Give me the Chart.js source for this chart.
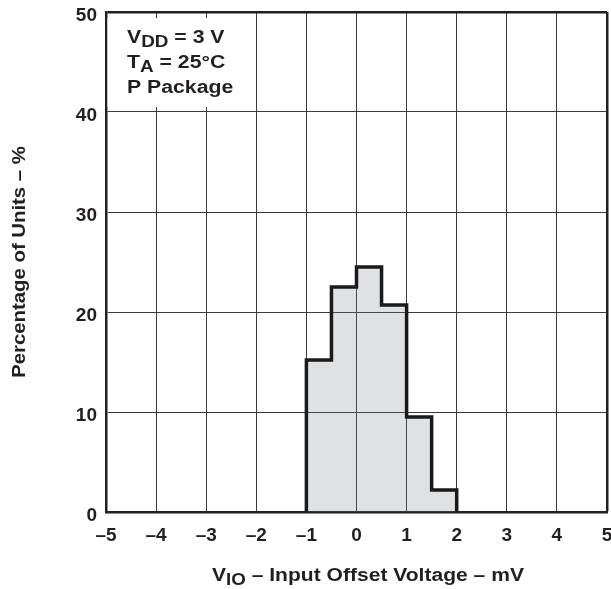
<!DOCTYPE html>
<html>
<head>
<meta charset="utf-8">
<script src="https://cdn.jsdelivr.net/npm/chart.js@4.4.1/dist/chart.umd.min.js"></script>
<style>
  html, body { margin: 0; padding: 0; background: #ffffff; }
  #wrap { width: 611px; height: 589px; }
</style>
</head>
<body>
<div id="wrap"><canvas id="c" width="611" height="589"></canvas></div>
<script>
// ---- data ----
const binStarts = [-1, -0.5, 0, 0.5, 1, 1.5];      // mV, left edge of each bin
const binWidth = 0.5;                               // mV
const percentUnits = [15.2, 22.5, 24.5, 20.7, 9.5, 2.2];  // % of units
const xTickValues = [-5, -4, -3, -2, -1, 0, 1, 2, 3, 4, 5];
const yTickValues = [0, 10, 20, 30, 40, 50];
const xTitleMain = "V";
const xTitleSub = "IO";
const xTitleRest = " \u2013 Input Offset Voltage \u2013 mV";
const yTitle = "Percentage of Units \u2013 %";
const noteLines = [
  ["V", "DD", " = 3 V"],
  ["T", "A", " = 25\u00B0C"],
  ["P Package", "", ""]
];

// histogram outline points built from the bins
const histPoints = [{ x: binStarts[0], y: 0 }];
binStarts.forEach((s, i) => {
  histPoints.push({ x: s, y: percentUnits[i] });
  histPoints.push({ x: s + binWidth, y: percentUnits[i] });
});
histPoints.push({ x: binStarts[binStarts.length - 1] + binWidth, y: 0 });

const FONT = "'Liberation Sans', Arial, Helvetica, sans-serif";
const INK = '#231f20';

const decorPlugin = {
  id: 'decor',
  beforeDatasetsDraw(chart) {
    const { ctx, scales: { x, y } } = chart;
    // white legend box that hides grid lines in the upper-left corner
    const l = x.getPixelForValue(-5) + 1.5;
    const r = x.getPixelForValue(-2) - 1;
    const t = y.getPixelForValue(50) + 6;
    const b = y.getPixelForValue(40) - 5;
    ctx.save();
    ctx.fillStyle = '#ffffff';
    ctx.fillRect(l, t, r - l, b - t);
    ctx.restore();
  },
  afterDraw(chart) {
    const { ctx } = chart;
    const sx = 1.18;
    ctx.save();
    ctx.fillStyle = INK;
    ctx.textBaseline = 'alphabetic';
    ctx.textAlign = 'left';

    function drawSubText(parts, x0, base, mainSize, subSize, subDrop, scale) {
      ctx.save();
      ctx.translate(x0, base);
      ctx.scale(scale, 1);
      let cx = 0;
      ctx.font = `bold ${mainSize}px ${FONT}`;
      ctx.fillText(parts[0], cx, 0);
      cx += ctx.measureText(parts[0]).width;
      if (parts[1]) {
        ctx.font = `bold ${subSize}px ${FONT}`;
        ctx.fillText(parts[1], cx, subDrop);
        cx += ctx.measureText(parts[1]).width;
      }
      if (parts[2]) {
        ctx.font = `bold ${mainSize}px ${FONT}`;
        ctx.fillText(parts[2], cx, 0);
        cx += ctx.measureText(parts[2]).width;
      }
      ctx.restore();
      return cx * scale;
    }
    function measureSub(parts, mainSize, subSize) {
      let w = 0;
      ctx.font = `bold ${mainSize}px ${FONT}`;
      w += ctx.measureText(parts[0]).width;
      ctx.font = `bold ${subSize}px ${FONT}`;
      w += parts[1] ? ctx.measureText(parts[1]).width : 0;
      ctx.font = `bold ${mainSize}px ${FONT}`;
      w += parts[2] ? ctx.measureText(parts[2]).width : 0;
      return w;
    }

    // note box text
    const bases = [43, 68, 93];
    noteLines.forEach((p, i) => drawSubText(p, 127, bases[i], 18, 16, 4, sx));

    // x axis title
    const xParts = [xTitleMain, xTitleSub, xTitleRest];
    const xw = measureSub(xParts, 18, 16) * 1.17;
    drawSubText(xParts, 368 - xw / 2, 581, 18, 16, 4, 1.17);

    // y axis title
    ctx.save();
    ctx.translate(25, 262);
    ctx.rotate(-Math.PI / 2);
    ctx.scale(1.13, 1);
    ctx.font = `bold 18px ${FONT}`;
    ctx.textAlign = 'center';
    ctx.fillText(yTitle, 0, 0);
    ctx.restore();

    ctx.restore();
  }
};

new Chart(document.getElementById('c'), {
  type: 'line',
  data: {
    datasets: [{
      data: histPoints,
      borderColor: '#1a1a1a',
      borderWidth: 3.5,
      borderJoinStyle: 'miter',
      backgroundColor: 'rgba(120,125,135,0.23)',
      fill: 'origin',
      pointRadius: 0,
      tension: 0
    }]
  },
  options: {
    responsive: false,
    animation: false,
    devicePixelRatio: 1,
    layout: { padding: { top: 12, right: 4, left: 0, bottom: 0 } },
    plugins: { legend: { display: false }, tooltip: { enabled: false }, title: { display: false } },
    scales: {
      x: {
        type: 'linear',
        min: -5, max: 5,
        afterBuildTicks: s => { s.ticks = xTickValues.map(v => ({ value: v })); },
        ticks: {
          callback: v => (v < 0 ? '\u2013' + Math.abs(v) : String(v)),
          font: { family: FONT, size: 19, weight: 'bold' },
          color: INK,
          padding: 12,
          maxRotation: 0,
          autoSkip: false
        },
        grid: {
          drawTicks: false,
          color: c => (c.tick && c.tick.value === 5 ? INK : '#3a3a3a'),
          lineWidth: c => (c.tick && c.tick.value === 5 ? 2.5 : 1)
        },
        border: { color: INK, width: 2.5 },
        afterFit: s => { s.height = 77; s.paddingLeft = 0; s.paddingRight = 0; }
      },
      y: {
        min: 0, max: 50,
        afterBuildTicks: s => { s.ticks = yTickValues.map(v => ({ value: v })); },
        ticks: {
          font: { family: FONT, size: 19, weight: 'bold' },
          color: INK,
          padding: 9,
          labelOffset: 4,
          autoSkip: false
        },
        grid: {
          drawTicks: false,
          color: c => (c.tick && c.tick.value === 50 ? INK : '#3a3a3a'),
          lineWidth: c => (c.tick && c.tick.value === 50 ? 2.5 : 1)
        },
        border: { color: INK, width: 2.5 },
        afterFit: s => { s.width = 106; s.paddingTop = 0; s.paddingBottom = 0; }
      }
    }
  },
  plugins: [decorPlugin]
});
</script>
</body>
</html>
